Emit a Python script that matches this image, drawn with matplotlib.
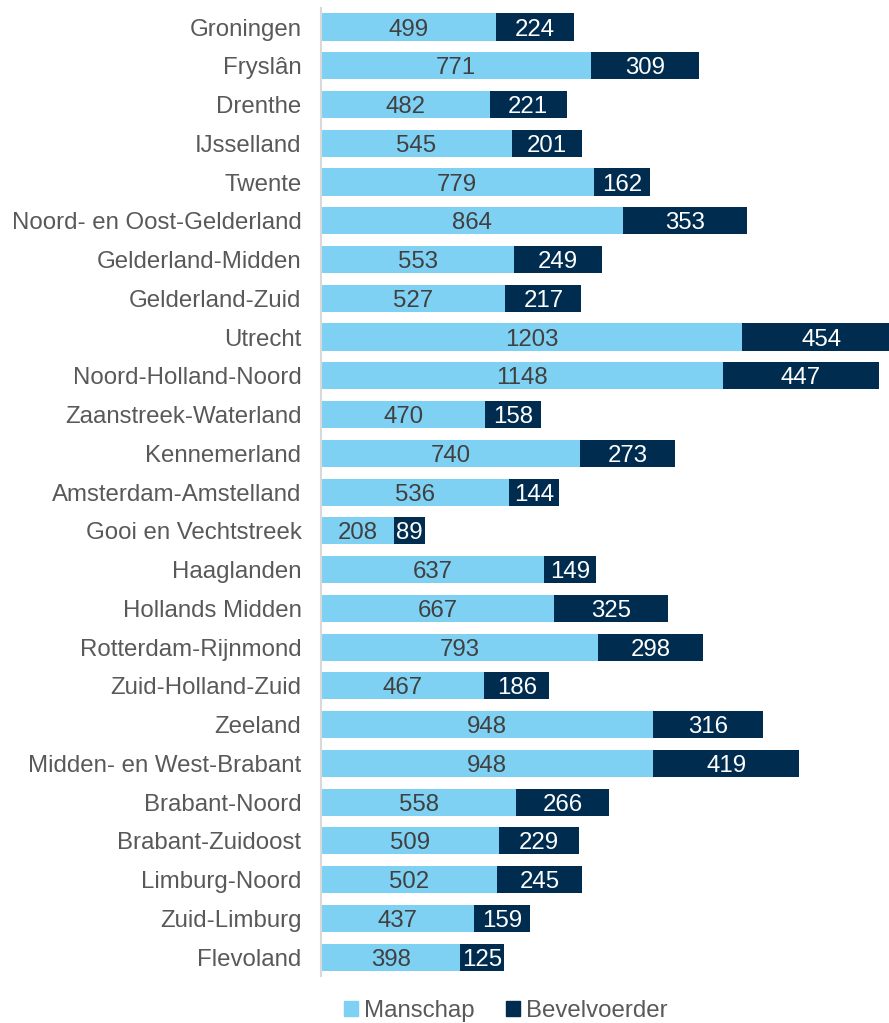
import matplotlib
matplotlib.use("Agg")
import matplotlib.pyplot as plt
from matplotlib.patches import Patch

regions = ["Groningen", "Fryslân", "Drenthe", "IJsselland", "Twente",
           "Noord- en Oost-Gelderland", "Gelderland-Midden", "Gelderland-Zuid",
           "Utrecht", "Noord-Holland-Noord", "Zaanstreek-Waterland", "Kennemerland",
           "Amsterdam-Amstelland", "Gooi en Vechtstreek", "Haaglanden",
           "Hollands Midden", "Rotterdam-Rijnmond", "Zuid-Holland-Zuid", "Zeeland",
           "Midden- en West-Brabant", "Brabant-Noord", "Brabant-Zuidoost",
           "Limburg-Noord", "Zuid-Limburg", "Flevoland"]
manschap = [499, 771, 482, 545, 779, 864, 553, 527, 1203, 1148, 470, 740, 536,
            208, 637, 667, 793, 467, 948, 948, 558, 509, 502, 437, 398]
bevelvoerder = [224, 309, 221, 201, 162, 353, 249, 217, 454, 447, 158, 273, 144,
                89, 149, 325, 298, 186, 316, 419, 266, 229, 245, 159, 125]

plt.rcParams['font.family'] = ['Liberation Sans', 'DejaVu Sans']
light = '#7FD1F3'
dark = '#002D4F'
txt = '#404040'
lab = '#595959'
fs = 17.3

fig = plt.figure(figsize=(8.89, 10.23), dpi=100)
ax = fig.add_axes([0.361, 0.0455, 0.639, 0.947])

y = list(range(len(regions)))
h = 0.7
ax.barh(y, manschap, height=h, color=light, label='Manschap')
ax.barh(y, bevelvoerder, left=manschap, height=h, color=dark, label='Bevelvoerder')

for yi, m, b in zip(y, manschap, bevelvoerder):
    ax.text(m / 2, yi, str(m), ha='center', va='center_baseline', color=txt, fontsize=fs)
    ax.text(m + b / 2, yi, str(b), ha='center', va='center_baseline', color='white', fontsize=fs)

ax.set_xlim(0, 1623)
ax.set_ylim(len(regions) - 0.5, -0.5)
ax.set_yticks(y)
ax.set_yticklabels(regions, fontsize=fs, color=lab)
ax.set_xticks([])
ax.tick_params(axis='y', length=0, pad=14)
for s in ['top', 'right', 'bottom']:
    ax.spines[s].set_visible(False)
ax.spines['left'].set_color('#D9D9D9')
ax.spines['left'].set_linewidth(1.5)

handles = [Patch(color=light, label='Manschap'), Patch(color=dark, label='Bevelvoerder')]
fig.legend(handles=handles, loc='center', bbox_to_anchor=(0.569, 0.012), ncol=2,
           frameon=False, fontsize=fs, handlelength=0.6, handleheight=0.6,
           handletextpad=0.25, columnspacing=1.3, labelcolor=lab)

fig.savefig('out.png', dpi=100)
